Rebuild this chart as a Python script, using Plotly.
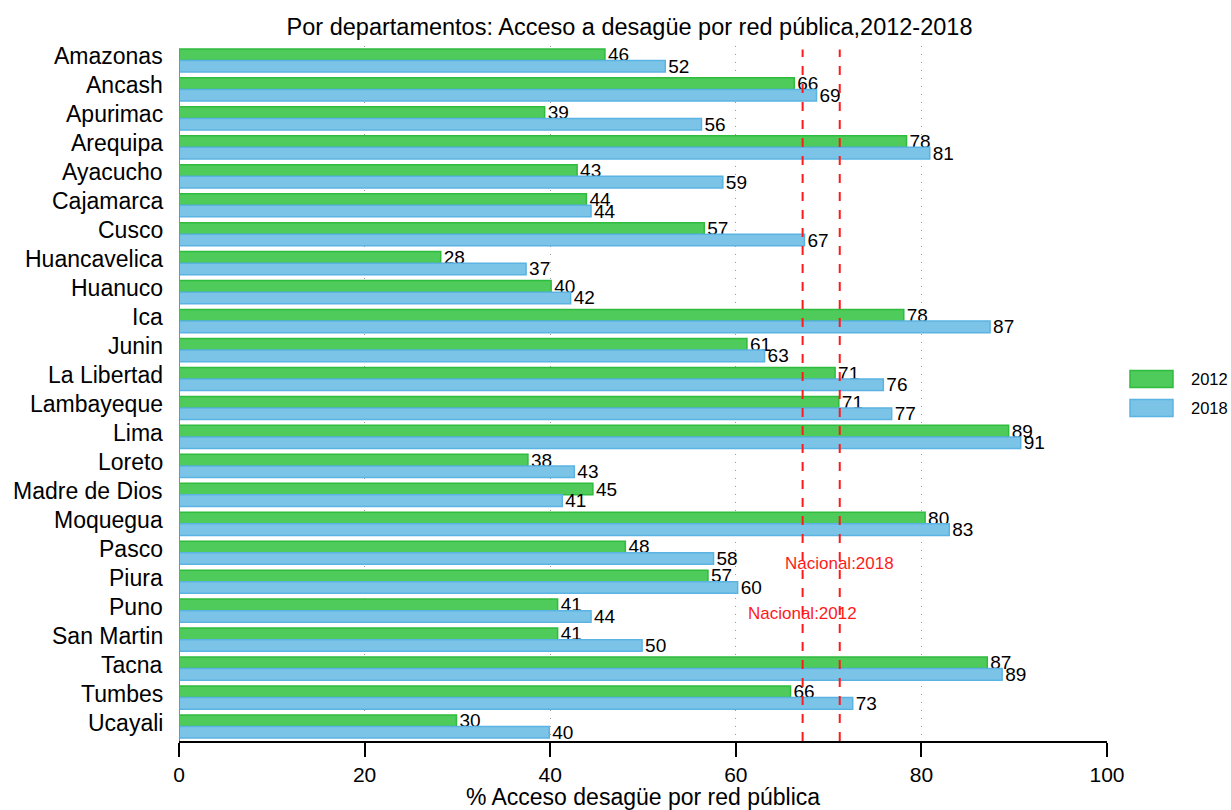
import plotly.graph_objects as go

# Departamentos del Perú (orden alfabético, de arriba hacia abajo)
departamentos = [
    "Amazonas", "Ancash", "Apurimac", "Arequipa", "Ayacucho", "Cajamarca",
    "Cusco", "Huancavelica", "Huanuco", "Ica", "Junin", "La Libertad",
    "Lambayeque", "Lima", "Loreto", "Madre de Dios", "Moquegua", "Pasco",
    "Piura", "Puno", "San Martin", "Tacna", "Tumbes", "Ucayali",
]

# % de hogares con acceso a desagüe por red pública
acceso_2012 = [
    45.9, 66.3, 39.4, 78.4, 42.9, 43.9, 56.6, 28.2, 40.1, 78.1, 61.2, 70.7,
    71.1, 89.4, 37.6, 44.6, 80.4, 48.1, 57.0, 40.8, 40.8, 87.1, 65.9, 29.9,
]
acceso_2018 = [
    52.4, 68.7, 56.3, 80.9, 58.6, 44.4, 67.4, 37.4, 42.2, 87.4, 63.1, 75.9,
    76.8, 90.7, 42.6, 41.3, 83.0, 57.6, 60.2, 44.4, 49.9, 88.7, 72.6, 39.9,
]

anios = ["2012", "2018"]
colores = ["#4ecb5b", "#7cc4e7"]
bordes = ["#2fbb3e", "#5ab3e2"]

# Promedios nacionales
nacional_2012 = 67.2
nacional_2018 = 71.2

FONT = "Liberation Sans, Arial, sans-serif"

fig = go.Figure()
for anio, valores, color, borde in zip(anios, [acceso_2012, acceso_2018], colores, bordes):
    fig.add_trace(go.Bar(
        y=departamentos, x=valores, name=anio, orientation="h",
        marker=dict(color=color, line=dict(color=borde, width=1.5)),
        texttemplate="%{x:.0f}", textposition="outside",
        textfont=dict(size=19, color="black", family=FONT),
        constraintext="none", cliponaxis=False, showlegend=False,
    ))

# Etiquetas de departamentos
for dep in departamentos:
    fig.add_annotation(x=0, y=dep, xref="paper", yref="y", text=dep,
                       showarrow=False, xanchor="right", yanchor="middle",
                       xshift=-14, yshift=4,
                       font=dict(size=23, color="black", family=FONT))

# Líneas de referencia nacionales
for val in (nacional_2012, nacional_2018):
    fig.add_shape(type="line", xref="x", yref="paper", x0=val, x1=val,
                  y0=0, y1=0.995, line=dict(color="#ff1a1a", width=2, dash="dash"))

# Eje vertical gris
fig.add_shape(type="line", xref="x", yref="y", x0=0, x1=0, y0=0, y1=23.5,
              line=dict(color="#8c8c8c", width=2))

fig.add_annotation(x=nacional_2018, y=0.2547, xref="x", yref="paper",
                   text="Nacional:2018", showarrow=False, yanchor="middle",
                   font=dict(size=17, color="#ff1a1a", family=FONT))
fig.add_annotation(x=nacional_2012, y=0.184, xref="x", yref="paper",
                   text="Nacional:2012", showarrow=False, yanchor="middle",
                   font=dict(size=17, color="#ff1a1a", family=FONT))

# Leyenda
leyenda_y = [0.5208, 0.4791]
for anio, color, borde, ly in zip(anios, colores, bordes, leyenda_y):
    fig.add_shape(type="rect", xref="paper", yref="paper",
                  x0=1.0248, x1=1.0711, y0=ly - 0.0122, y1=ly + 0.0122,
                  fillcolor=color, line=dict(color=borde, width=1.5))
    fig.add_annotation(x=1.0884, y=ly, xref="paper", yref="paper", text=anio,
                       showarrow=False, xanchor="left", yanchor="middle",
                       font=dict(size=16.5, color="black", family=FONT))

fig.update_layout(
    width=1231, height=810,
    paper_bgcolor="white", plot_bgcolor="white",
    margin=dict(l=179, r=124, t=46, b=69),
    barmode="group", bargap=0.2, bargroupgap=0,
    font=dict(family=FONT, color="black"),
    showlegend=False,
    title=dict(text="Por departamentos: Acceso a desagüe por red pública,2012-2018",
               x=0.5114, xanchor="center", y=0.967, yanchor="middle",
               font=dict(size=23.5, color="black", family=FONT)),
    xaxis=dict(
        range=[0, 100], dtick=20, tick0=0, automargin=False,
        showline=True, linecolor="black", linewidth=1.5,
        ticks="outside", ticklen=14, tickwidth=1.5, tickcolor="black",
        tickfont=dict(size=21, color="black", family=FONT),
        showgrid=True, gridcolor="#9a9a9a", griddash="1px,7px", gridwidth=1.2,
        zeroline=False,
        title=dict(text="% Acceso desagüe por red pública", standoff=8,
                   font=dict(size=23, color="black", family=FONT)),
    ),
    yaxis=dict(
        type="category", categoryorder="array", categoryarray=departamentos,
        range=[23.5, -0.5], showline=False, showgrid=False, zeroline=False,
        ticks="", showticklabels=False, automargin=False,
    ),
)

fig.write_html("out.html")
